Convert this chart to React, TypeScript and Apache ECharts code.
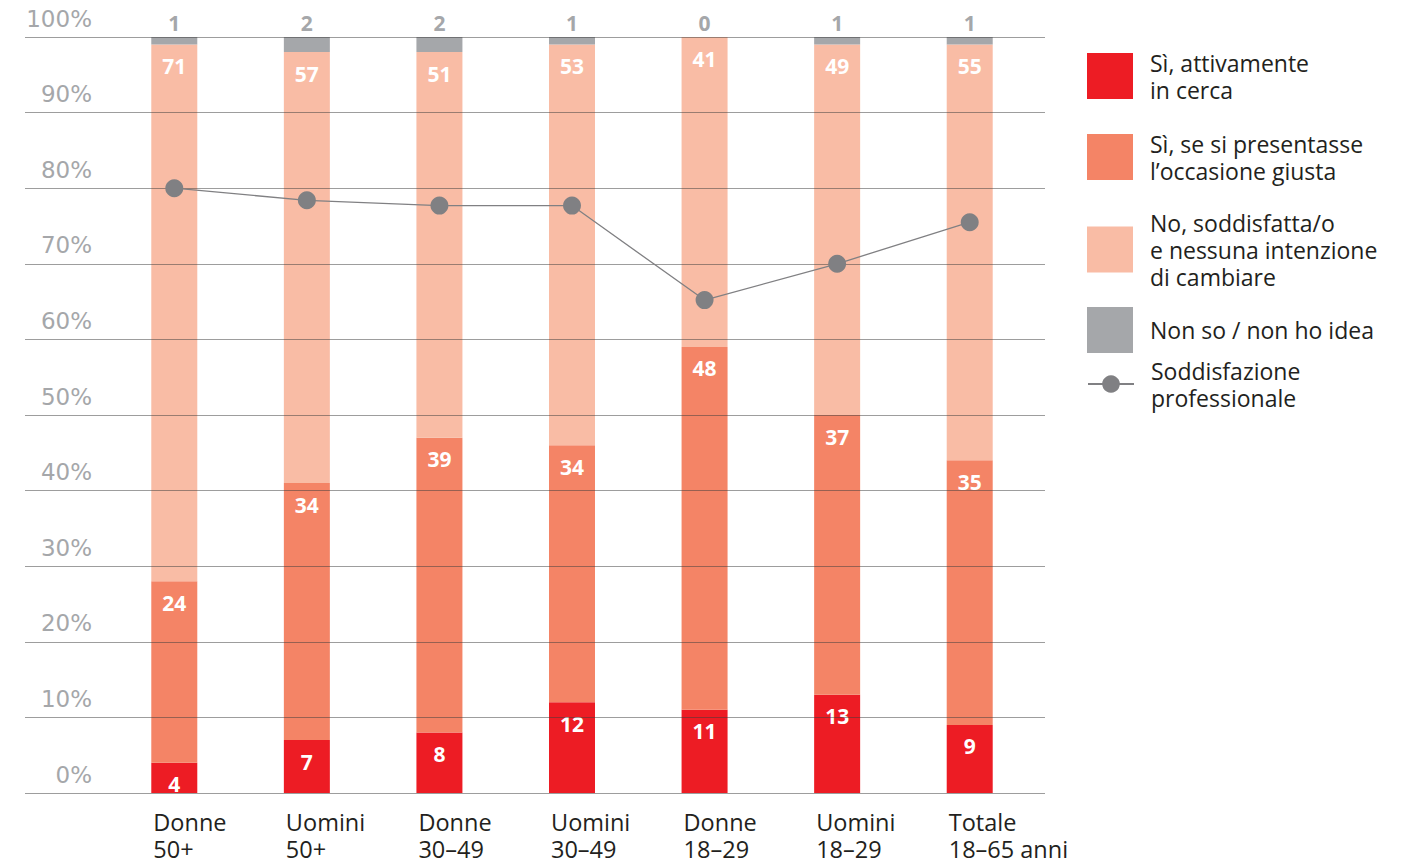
import React, { useEffect, useRef } from 'react';
import * as echarts from 'echarts';

const FONT = '"Open Sans", "Noto Sans", sans-serif';
const AXIS_FONT = '"DejaVu Sans", "Open Sans", sans-serif';

const categories = ['Donne\n50+', 'Uomini\n50+', 'Donne\n30–49', 'Uomini\n30–49', 'Donne\n18–29', 'Uomini\n18–29', 'Totale\n18–65 anni'];
const attivamente = [4, 7, 8, 12, 11, 13, 9];
const occasione = [24, 34, 39, 34, 48, 37, 35];
const soddisfatta = [71, 57, 51, 53, 41, 49, 55];
const nonSo = [1, 2, 2, 1, 0, 1, 1];
const soddisfazione = [80, 78.4, 77.7, 77.7, 65.2, 70, 75.5];

const seriesNames = [
  'Sì, attivamente\nin cerca',
  'Sì, se si presentasse\nl’occasione giusta',
  'No, soddisfatta/o\ne nessuna intenzione\ndi cambiare',
  'Non so / non ho idea',
  'Soddisfazione\nprofessionale',
];
const colors = ['#ed1c24', '#f48466', '#f9bca5', '#a5a7aa', '#808083'];

const insideLabel = {
  show: true,
  position: 'insideTop',
  distance: 11,
  color: '#ffffff',
  fontWeight: 'bold',
  fontSize: 21,
  fontFamily: FONT,
};

const legendBase = {
  orient: 'vertical',
  left: 1087,
  padding: 0,
  itemWidth: 46,
  itemHeight: 46,
  icon: 'rect',
  selectedMode: false,
  textStyle: {
    fontSize: 23,
    lineHeight: 27,
    color: '#231f20',
    fontFamily: FONT,
    padding: [0, 0, 0, 12],
  },
};

function buildOption() {
  return {
    animation: false,
    backgroundColor: '#ffffff',
    grid: [
      { left: 25, right: 373, top: 37, bottom: 70 },
      { left: 108, right: 382, top: 37, bottom: 70 },
    ],
    legend: [
      { ...legendBase, top: 49, data: [seriesNames[0]] },
      { ...legendBase, top: 130, data: [seriesNames[1]] },
      { ...legendBase, top: 209, data: [seriesNames[2]] },
      { ...legendBase, top: 307, data: [seriesNames[3]] },
      { ...legendBase, top: 357, itemHeight: 22, icon: undefined, data: [seriesNames[4]] },
    ],
    xAxis: [
      { gridIndex: 0, type: 'value', min: 0, max: 1, show: false },
      {
        gridIndex: 1,
        type: 'category',
        data: categories,
        axisLine: { show: false },
        axisTick: { show: false },
        axisLabel: {
          interval: 0,
          margin: 15,
          align: 'left',
          padding: [0, 0, 0, -21],
          fontSize: 23.5,
          lineHeight: 27,
          color: '#231f20',
          fontFamily: FONT,
        },
      },
    ],
    yAxis: [
      {
        gridIndex: 0,
        type: 'value',
        min: 0,
        max: 100,
        interval: 10,
        z: 5,
        axisLine: { show: false },
        axisTick: { show: false },
        splitLine: { show: true, lineStyle: { color: 'rgba(60,60,60,0.5)', width: 1 } },
        axisLabel: {
          inside: true,
          margin: 67,
          align: 'right',
          verticalAlign: 'bottom',
          padding: [0, 0, 7, 0],
          formatter: '{value}%',
          fontSize: 23,
          color: '#a5a7aa',
          fontFamily: AXIS_FONT,
        },
      },
      { gridIndex: 1, type: 'value', min: 0, max: 100, show: false },
    ],
    series: [
      {
        name: seriesNames[0], type: 'bar', stack: 'tot', xAxisIndex: 1, yAxisIndex: 1,
        barWidth: 46, data: attivamente, itemStyle: { color: colors[0] }, label: insideLabel,
      },
      {
        name: seriesNames[1], type: 'bar', stack: 'tot', xAxisIndex: 1, yAxisIndex: 1,
        barWidth: 46, data: occasione, itemStyle: { color: colors[1] }, label: insideLabel,
      },
      {
        name: seriesNames[2], type: 'bar', stack: 'tot', xAxisIndex: 1, yAxisIndex: 1,
        barWidth: 46, data: soddisfatta, itemStyle: { color: colors[2] }, label: insideLabel,
      },
      {
        name: seriesNames[3], type: 'bar', stack: 'tot', xAxisIndex: 1, yAxisIndex: 1,
        barWidth: 46, data: nonSo, itemStyle: { color: colors[3] },
        label: {
          show: true, position: 'top', distance: 4, color: '#a5a7aa', fontWeight: 'bold',
          fontSize: 21, fontFamily: FONT,
        },
      },
      {
        name: seriesNames[4], type: 'line', xAxisIndex: 1, yAxisIndex: 1, z: 10,
        data: soddisfazione, symbol: 'circle', symbolSize: 18,
        lineStyle: { color: colors[4], width: 1.3 },
        itemStyle: { color: colors[4] },
      },
    ],
  };
}

export default function App() {
  const ref = useRef<HTMLDivElement>(null);
  useEffect(() => {
    const chart = echarts.init(ref.current as HTMLDivElement, null, { renderer: 'svg' });
    chart.setOption(buildOption() as any);
    return () => chart.dispose();
  }, []);
  return <div ref={ref} style={{ position: 'fixed', left: 0, top: 0, width: 1418, height: 863 }} />;
}
